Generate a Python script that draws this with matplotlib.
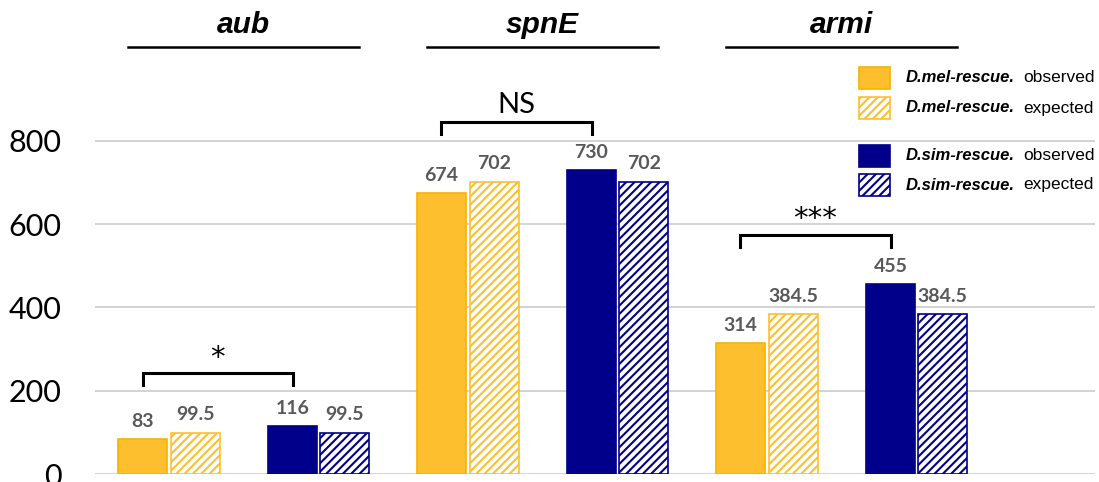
import matplotlib as mpl
mpl.use('Agg')

import numpy as np
import matplotlib.pyplot as plt
from matplotlib.patches import Rectangle

# Counts per gene: D.mel observed, D.mel expected, D.sim observed, D.sim expected
genes = ['aub', 'spnE', 'armi']
mel_obs = [83, 674, 314]
mel_exp = [99.5, 702, 384.5]
sim_obs = [116, 730, 455]
sim_exp = [99.5, 702, 384.5]
signif = ['*', 'NS', '***']
bracket_y = [242, 845, 574]
yticks = [0, 200, 400, 600, 800]

gold = '#FDBF2D'
gold_edge = '#F5B400'
navy = '#00008B'
grey_txt = '#595959'

mpl.rcParams['hatch.linewidth'] = 1.5

fig = plt.figure(figsize=(10.99, 4.82), dpi=100)
ax = fig.add_axes([95 / 1099, 8 / 482, 1000 / 1099, 474 / 482])

x = np.arange(len(genes))
w = 0.164
offs = [-0.338, -0.162, 0.164, 0.338]
series = [
    (mel_obs, gold, gold_edge, None),
    (mel_exp, 'white', gold, '////'),
    (sim_obs, navy, navy, None),
    (sim_exp, 'white', navy, '////'),
]
for (vals, fc, ec, hatch), off in zip(series, offs):
    bars = ax.bar(x + off, vals, w, color=fc, edgecolor=ec, hatch=hatch,
                  linewidth=1.2, zorder=3)
    for b, v in zip(bars, vals):
        ax.text(b.get_x() + b.get_width() / 2, v + 22, '%g' % v, ha='center',
                va='bottom', fontsize=14, fontweight='bold', color=grey_txt,
                family='Lato')

# Significance brackets between the two observed bars
for i, s in enumerate(signif):
    top = bracket_y[i]
    x0 = x[i] + offs[0]
    x1 = x[i] + offs[2]
    ax.plot([x0, x0, x1, x1], [top - 28, top, top, top - 28], color='black',
            lw=2.2, clip_on=False, zorder=4, solid_joinstyle='miter')
    if s == 'NS':
        ax.text((x0 + x1) / 2, top + 10, s, ha='center', va='bottom',
                fontsize=21, family='Lato')
    else:
        ax.text((x0 + x1) / 2, top + 4, s, ha='center', va='bottom',
                fontsize=21, family='DejaVu Sans')

# Gene names with underline
for i, g in enumerate(genes):
    ax.text(x[i], 1078, g, ha='center', va='center', fontsize=21.5,
            fontweight='bold', fontstyle='italic', family='Liberation Sans')
    ax.plot([x[i] - 0.385, x[i] + 0.385], [1025, 1025], color='black', lw=1.8,
            clip_on=False)

ax.set_xlim(-0.497, 2.848)
ax.set_ylim(0, 1138)
ax.set_yticks(yticks)
ax.set_yticklabels([str(t) for t in yticks], fontsize=22, family='Lato')
ax.tick_params(axis='y', length=0, pad=24)
ax.set_xticks([])
ax.grid(axis='y', color='#d0d0d0', lw=1.3, zorder=0)
for sp in ax.spines.values():
    sp.set_visible(False)

# Legend drawn as boxes plus two-style labels
legend_rows = [
    ('D.mel-rescue.', 'observed', gold, gold_edge, None, 78),
    ('D.mel-rescue.', 'expected', 'white', gold, '////', 108),
    ('D.sim-rescue.', 'observed', navy, navy, None, 156),
    ('D.sim-rescue.', 'expected', 'white', navy, '////', 185),
]
for name, kind, fc, ec, hatch, yp in legend_rows:
    fig.patches.append(Rectangle((859 / 1099, 1 - (yp + 11) / 482), 31 / 1099,
                                 22 / 482, transform=fig.transFigure,
                                 facecolor=fc, edgecolor=ec, hatch=hatch, lw=1.2))
    fig.text(906 / 1099, 1 - yp / 482, name, ha='left', va='center',
             fontsize=12, fontweight='bold', fontstyle='italic',
             family='Liberation Sans')
    fig.text(1023 / 1099, 1 - yp / 482, kind, ha='left', va='center',
             fontsize=12.5, family='Liberation Sans')

fig.savefig('out.png', dpi=100)
